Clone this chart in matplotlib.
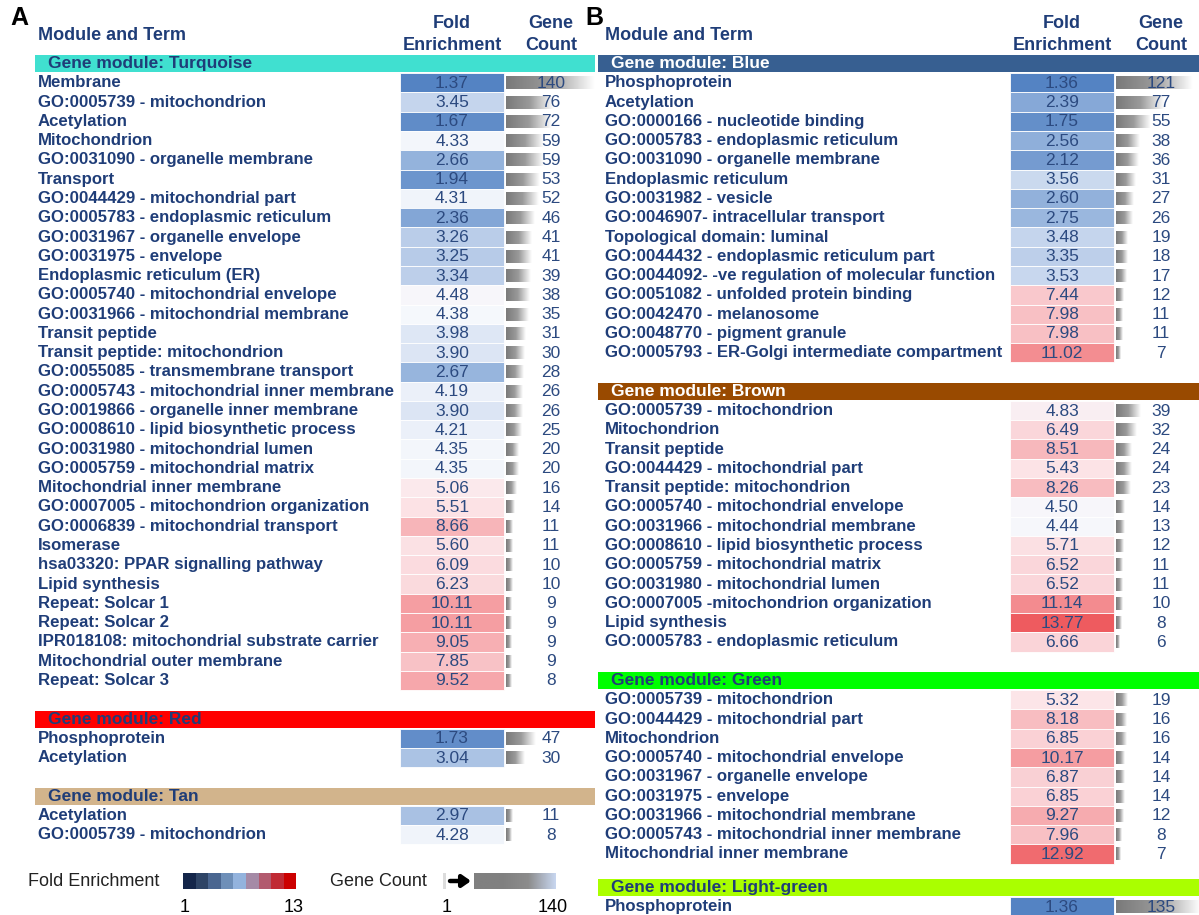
import numpy as np
import matplotlib
matplotlib.use("Agg")
import matplotlib.pyplot as plt
from matplotlib.colors import LinearSegmentedColormap
from matplotlib.patches import Rectangle

plt.rcParams['font.family'] = ['Liberation Sans', 'DejaVu Sans']

# ---- data: panel A ----
turq_terms = ["Membrane", "GO:0005739 - mitochondrion", "Acetylation", "Mitochondrion",
              "GO:0031090 - organelle membrane", "Transport", "GO:0044429 - mitochondrial part",
              "GO:0005783 - endoplasmic reticulum", "GO:0031967 - organelle envelope",
              "GO:0031975 - envelope", "Endoplasmic reticulum (ER)",
              "GO:0005740 - mitochondrial envelope", "GO:0031966 - mitochondrial membrane",
              "Transit peptide", "Transit peptide: mitochondrion",
              "GO:0055085 - transmembrane transport", "GO:0005743 - mitochondrial inner membrane",
              "GO:0019866 - organelle inner membrane", "GO:0008610 - lipid biosynthetic process",
              "GO:0031980 - mitochondrial lumen", "GO:0005759 - mitochondrial matrix",
              "Mitochondrial inner membrane", "GO:0007005 - mitochondrion organization",
              "GO:0006839 - mitochondrial transport", "Isomerase",
              "hsa03320: PPAR signalling pathway", "Lipid synthesis", "Repeat: Solcar 1",
              "Repeat: Solcar 2", "IPR018108: mitochondrial substrate carrier",
              "Mitochondrial outer membrane", "Repeat: Solcar 3"]
turq_fold = [1.37, 3.45, 1.67, 4.33, 2.66, 1.94, 4.31, 2.36, 3.26, 3.25, 3.34, 4.48, 4.38,
             3.98, 3.90, 2.67, 4.19, 3.90, 4.21, 4.35, 4.35, 5.06, 5.51, 8.66, 5.60, 6.09,
             6.23, 10.11, 10.11, 9.05, 7.85, 9.52]
turq_count = [140, 76, 72, 59, 59, 53, 52, 46, 41, 41, 39, 38, 35, 31, 30, 28, 26, 26, 25,
              20, 20, 16, 14, 11, 11, 10, 10, 9, 9, 9, 9, 8]

red_terms = ["Phosphoprotein", "Acetylation"]
red_fold = [1.73, 3.04]
red_count = [47, 30]

tan_terms = ["Acetylation", "GO:0005739 - mitochondrion"]
tan_fold = [2.97, 4.28]
tan_count = [11, 8]

# ---- data: panel B ----
blue_terms = ["Phosphoprotein", "Acetylation", "GO:0000166 - nucleotide binding",
              "GO:0005783 - endoplasmic reticulum", "GO:0031090 - organelle membrane",
              "Endoplasmic reticulum", "GO:0031982 - vesicle",
              "GO:0046907- intracellular transport", "Topological domain: luminal",
              "GO:0044432 - endoplasmic reticulum part",
              "GO:0044092- -ve regulation of molecular function",
              "GO:0051082 - unfolded protein binding", "GO:0042470 - melanosome",
              "GO:0048770 - pigment granule", "GO:0005793 - ER-Golgi intermediate compartment"]
blue_fold = [1.36, 2.39, 1.75, 2.56, 2.12, 3.56, 2.60, 2.75, 3.48, 3.35, 3.53, 7.44, 7.98,
             7.98, 11.02]
blue_count = [121, 77, 55, 38, 36, 31, 27, 26, 19, 18, 17, 12, 11, 11, 7]

brown_terms = ["GO:0005739 - mitochondrion", "Mitochondrion", "Transit peptide",
               "GO:0044429 - mitochondrial part", "Transit peptide: mitochondrion",
               "GO:0005740 - mitochondrial envelope", "GO:0031966 - mitochondrial membrane",
               "GO:0008610 - lipid biosynthetic process", "GO:0005759 - mitochondrial matrix",
               "GO:0031980 - mitochondrial lumen", "GO:0007005 -mitochondrion organization",
               "Lipid synthesis", "GO:0005783 - endoplasmic reticulum"]
brown_fold = [4.83, 6.49, 8.51, 5.43, 8.26, 4.50, 4.44, 5.71, 6.52, 6.52, 11.14, 13.77, 6.66]
brown_count = [39, 32, 24, 24, 23, 14, 13, 12, 11, 11, 10, 8, 6]

green_terms = ["GO:0005739 - mitochondrion", "GO:0044429 - mitochondrial part",
               "Mitochondrion", "GO:0005740 - mitochondrial envelope",
               "GO:0031967 - organelle envelope", "GO:0031975 - envelope",
               "GO:0031966 - mitochondrial membrane",
               "GO:0005743 - mitochondrial inner membrane", "Mitochondrial inner membrane"]
green_fold = [5.32, 8.18, 6.85, 10.17, 6.87, 6.85, 9.27, 7.96, 12.92]
green_count = [19, 16, 16, 14, 14, 14, 12, 8, 7]

lgreen_terms = ["Phosphoprotein"]
lgreen_fold = [1.36]
lgreen_count = [135]

legend_ticks_fold = ["1", "13"]
legend_ticks_count = ["1", "140"]

# ---- styling ----
NAVY = "#1f3d78"
NUM = "#2c4a80"
Y0 = 63.5
PITCH = 19.28
FS = 12.1

fold_nodes = [(1.3, "#5282c2"), (1.9, "#6a93cc"), (2.6, "#93b2dc"), (3.4, "#c2d3ec"),
              (4.4, "#f6f8fc"), (5.2, "#fce6e9"), (6.5, "#fad6da"), (8.0, "#f8c0c4"),
              (10.1, "#f59ea2"), (13.8, "#ee5b5f")]
vmin, vmax = fold_nodes[0][0], fold_nodes[-1][0]
fold_cmap = LinearSegmentedColormap.from_list(
    "fold", [((v - vmin) / (vmax - vmin), c) for v, c in fold_nodes])
bar_cmap = LinearSegmentedColormap.from_list("bar", ["#7a7a7a", "#9a9a9a", "#ffffff"])
leg_bar_cmap = LinearSegmentedColormap.from_list("lbar", ["#808080", "#808080", "#8c8c8c", "#c8d6ef"])
grad = np.linspace(0, 1, 100).reshape(1, -1)

fig = plt.figure(figsize=(11.99, 9.15), dpi=100)
ax = fig.add_axes([0, 0, 1, 1])
ax.set_xlim(0, 1199)
ax.set_ylim(915, 0)
ax.axis("off")


def draw_panel(text_x, band_x0, band_x1, cell_x0, modules):
    cell_w = 104
    slot = 0
    for name, band_col, band_txt, terms, fold, count, gap in modules:
        yb = Y0 + slot * PITCH
        ax.add_patch(Rectangle((band_x0, yb - 8.5), band_x1 - band_x0, 17,
                               facecolor=band_col, edgecolor="none"))
        ax.text(band_x0 + 13, yb, "Gene module: " + name, color=band_txt, fontsize=12.5,
                fontweight="bold", va="center", ha="left")
        for i, (t, f, c) in enumerate(zip(terms, fold, count)):
            y = Y0 + (slot + 1 + i) * PITCH
            ax.text(text_x, y, t, color=NAVY, fontsize=FS, fontweight="bold",
                    va="center", ha="left")
            col = fold_cmap((f - vmin) / (vmax - vmin))
            ax.add_patch(Rectangle((cell_x0, y - PITCH / 2), cell_w, PITCH,
                                   facecolor=col, edgecolor="white", lw=0.6))
            ax.text(cell_x0 + cell_w / 2, y + 0.5, f"{f:.2f}", color=NUM, fontsize=12.5,
                    va="center", ha="center")
            bx0 = cell_x0 + cell_w + 2
            blen = max(c * 0.63, 3.5)
            ax.imshow(grad, extent=(bx0, bx0 + blen, y + 6.5, y - 6.5), cmap=bar_cmap,
                      aspect="auto", interpolation="bilinear", zorder=2)
            ax.text(cell_x0 + cell_w + 47, y + 0.5, str(c), color=NUM, fontsize=12.5,
                    va="center", ha="center", zorder=3)
        slot += len(terms) + gap


def draw_header(letter, lx, text_x, cell_x0):
    ax.text(lx, 18, letter, fontsize=18, fontweight="bold", color="black",
            va="center", ha="left")
    ax.text(text_x, 35, "Module and Term", color=NAVY, fontsize=13, fontweight="bold",
            va="center", ha="left")
    for x, words in [(cell_x0 + 52, ("Fold", "Enrichment")), (cell_x0 + 151, ("Gene", "Count"))]:
        ax.text(x, 23, words[0], color=NAVY, fontsize=13, fontweight="bold",
                va="center", ha="center")
        ax.text(x, 46, words[1], color=NAVY, fontsize=13, fontweight="bold",
                va="center", ha="center")


draw_header("A", 10, 38, 400)
draw_header("B", 585, 605, 1010)

draw_panel(38, 35, 595, 400, [
    ("Turquoise", "#40e0d0", NAVY, turq_terms, turq_fold, turq_count, 2),
    ("Red", "#ff0000", NAVY, red_terms, red_fold, red_count, 2),
    ("Tan", "#d2b48c", NAVY, tan_terms, tan_fold, tan_count, 2),
])
draw_panel(605, 598, 1199, 1010, [
    ("Blue", "#375f91", "white", blue_terms, blue_fold, blue_count, 2),
    ("Brown", "#994a00", "white", brown_terms, brown_fold, brown_count, 2),
    ("Green", "#00ff00", NAVY, green_terms, green_fold, green_count, 1.75),
    ("Light-green", "#aaff00", NAVY, lgreen_terms, lgreen_fold, lgreen_count, 2),
])

# ---- legend ----
ly = 881
ax.text(28, ly, "Fold Enrichment", fontsize=13, color="#222222", va="center", ha="left")
sw_cols = ["#14264a", "#2e4466", "#4a6690", "#6e8fb8", "#93b3dd", "#a58aa6",
           "#b25a6e", "#c02a34", "#cc0000"]
for i, c in enumerate(sw_cols):
    ax.add_patch(Rectangle((183 + i * 12.6, ly - 8), 12.6, 16, facecolor=c, edgecolor="none"))
ax.text(185, 908, legend_ticks_fold[0], fontsize=13, ha="center", va="center")
ax.text(294, 908, legend_ticks_fold[1], fontsize=13, ha="center", va="center")
ax.text(330, ly, "Gene Count", fontsize=13, color="#222222", va="center", ha="left")
ax.add_patch(Rectangle((443, ly - 8), 3, 16, facecolor="#dcdcdc", edgecolor="none"))
ax.annotate("", xy=(471, ly), xytext=(450, ly),
            arrowprops=dict(arrowstyle="-|>,head_width=0.35,head_length=0.5", lw=3.2,
                            color="black", shrinkA=0, shrinkB=0))
ax.imshow(grad, extent=(474, 556, ly + 8, ly - 8), cmap=leg_bar_cmap, aspect="auto",
          interpolation="bilinear")
ax.text(447, 908, legend_ticks_count[0], fontsize=13, ha="center", va="center")
ax.text(553, 908, legend_ticks_count[1], fontsize=13, ha="center", va="center")

ax.set_xlim(0, 1199)
ax.set_ylim(915, 0)
fig.savefig("out.png", dpi=100)
